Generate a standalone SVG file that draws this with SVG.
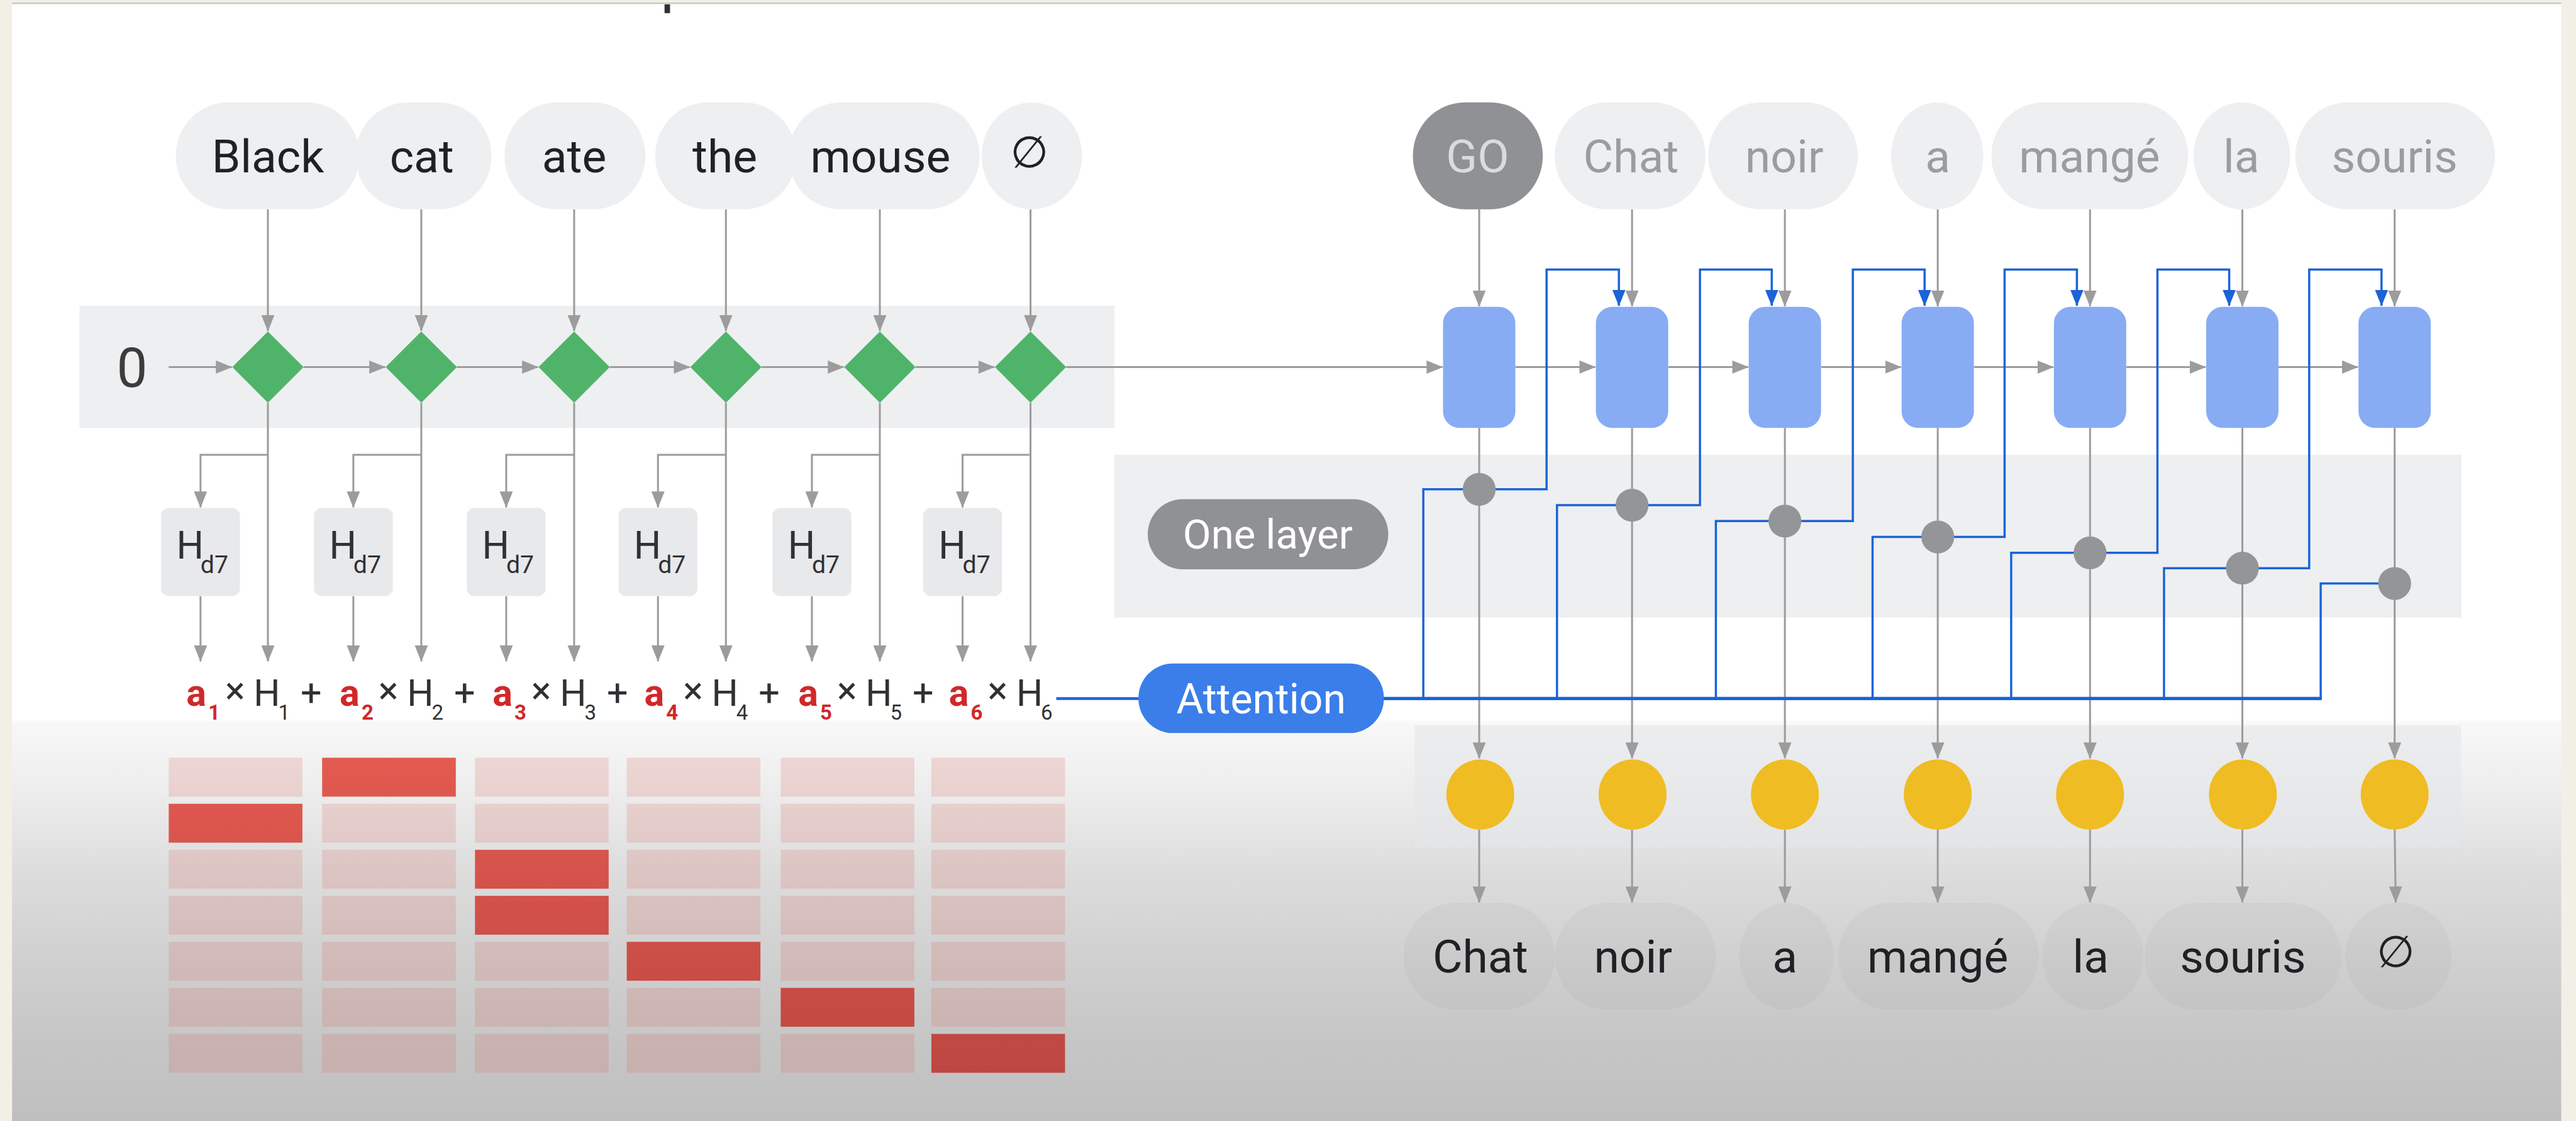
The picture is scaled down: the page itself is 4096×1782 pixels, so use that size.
<svg xmlns="http://www.w3.org/2000/svg" width="4096" height="1782" viewBox="0 0 4096 1782">
  <defs>
    <style>
      .t { font-family: Roboto, "Liberation Sans", "DejaVu Sans", sans-serif; }
      .word { font-size: 84px; text-anchor: middle; fill: #202124; }
      .fade { fill: #9a9ca0; }
      .pill { fill: #eeeff1; }
      .pillLow { fill: #7d8490; fill-opacity: 0.07; }
      .band { fill: #eeeff1; }
      .g { stroke: #9c9c9c; stroke-width: 3.5; fill: none; }
      .ga { stroke: #9c9c9c; stroke-width: 3.5; fill: none; marker-end: url(#ah); }
      .b { stroke: #1b63d8; stroke-width: 4; fill: none; }
      .ba { stroke: #1b63d8; stroke-width: 4; fill: none; marker-end: url(#ahb); }
      .diamond { fill: #4fb46a; }
      .cell { fill: #d8625c; fill-opacity: 0.2; }
      .hot { fill: url(#hotGrad); }
      .cellbox { fill: #e8e9eb; }
      .dec { fill: #87acf3; }
      .dot { fill: #939597; }
      .sun { fill: #f0bc23; }
      .red { fill: #d0282a; font-weight: bold; }
      .blk { fill: #303134; }
    </style>
    <marker id="ah" markerUnits="userSpaceOnUse" markerWidth="30" markerHeight="24" viewBox="0 0 30 24" refX="29" refY="12" orient="auto">
      <path d="M0,0 L30,12 L0,24 z" fill="#9c9c9c"/>
    </marker>
    <marker id="ahb" markerUnits="userSpaceOnUse" markerWidth="30" markerHeight="24" viewBox="0 0 30 24" refX="29" refY="12" orient="auto">
      <path d="M0,0 L30,12 L0,24 z" fill="#1b63d8"/>
    </marker>
    <linearGradient id="slideGrad" gradientUnits="userSpaceOnUse" x1="0" y1="1312" x2="0" y2="2046">
      <stop offset="0" stop-color="#ffffff"/>
      <stop offset="0.01" stop-color="#f8f8f8"/>
      <stop offset="0.19" stop-color="#ececec"/>
      <stop offset="0.39" stop-color="#dcdcdc"/>
      <stop offset="0.6" stop-color="#d0d0d0"/>
      <stop offset="0.8" stop-color="#c6c6c6"/>
      <stop offset="1" stop-color="#bfbfbf"/>
    </linearGradient>
    <linearGradient id="hotGrad" gradientUnits="userSpaceOnUse" x1="0" y1="1380" x2="0" y2="1960">
      <stop offset="0" stop-color="#e35a50"/>
      <stop offset="1" stop-color="#bd4742"/>
    </linearGradient>
  </defs>

  <g transform="scale(0.871118 0.870968)">
    <!-- page frame and slide -->
    <rect x="0" y="0" width="4702" height="2046" fill="#f2efe7"/>
    <rect x="22" y="7" width="4653" height="2039" fill="url(#slideGrad)"/>
    <line x1="22" y1="6" x2="4675" y2="6" stroke="#c9c8c4" stroke-width="3"/>
    <rect x="1213" y="8" width="10" height="16" fill="#303134"/>

    <!-- background bands -->
    <rect class="band" x="145" y="558" width="1889" height="223"/>
    <rect class="band" x="2034" y="830" width="2459" height="297"/>
    <rect x="2582" y="1324" width="1910" height="223" fill="#e4e6ea" fill-opacity="0.6"/>

    <!-- connectors -->
    <g id="connectors">
      <!-- encoder: tokens into cells -->
      <line class="ga" x1="489" y1="382" x2="489" y2="604"/>
      <line class="ga" x1="769" y1="382" x2="769" y2="604"/>
      <line class="ga" x1="1048" y1="382" x2="1048" y2="604"/>
      <line class="ga" x1="1325" y1="382" x2="1325" y2="604"/>
      <line class="ga" x1="1606" y1="382" x2="1606" y2="604"/>
      <line class="ga" x1="1881" y1="382" x2="1881" y2="604"/>
      <!-- encoder recurrence -->
      <line class="ga" x1="308" y1="670" x2="423" y2="670"/>
      <line class="ga" x1="554" y1="670" x2="703" y2="670"/>
      <line class="ga" x1="834" y1="670" x2="982" y2="670"/>
      <line class="ga" x1="1113" y1="670" x2="1259" y2="670"/>
      <line class="ga" x1="1390" y1="670" x2="1540" y2="670"/>
      <line class="ga" x1="1671" y1="670" x2="1815" y2="670"/>
      <line class="ga" x1="1946" y1="670" x2="2633" y2="670"/>
      <!-- encoder states down to the weighted sum -->
      <line class="ga" x1="489" y1="735" x2="489" y2="1207"/>
      <line class="ga" x1="769" y1="735" x2="769" y2="1207"/>
      <line class="ga" x1="1048" y1="735" x2="1048" y2="1207"/>
      <line class="ga" x1="1325" y1="735" x2="1325" y2="1207"/>
      <line class="ga" x1="1606" y1="735" x2="1606" y2="1207"/>
      <line class="ga" x1="1881" y1="735" x2="1881" y2="1207"/>
      <!-- branches into the H_d7 scorers -->
      <path class="ga" d="M489,830 H366 V926"/>
      <path class="ga" d="M769,830 H645 V926"/>
      <path class="ga" d="M1048,830 H924 V926"/>
      <path class="ga" d="M1325,830 H1201 V926"/>
      <path class="ga" d="M1606,830 H1482 V926"/>
      <path class="ga" d="M1881,830 H1757 V926"/>
      <line class="ga" x1="366" y1="1088" x2="366" y2="1207"/>
      <line class="ga" x1="645" y1="1088" x2="645" y2="1207"/>
      <line class="ga" x1="924" y1="1088" x2="924" y2="1207"/>
      <line class="ga" x1="1201" y1="1088" x2="1201" y2="1207"/>
      <line class="ga" x1="1482" y1="1088" x2="1482" y2="1207"/>
      <line class="ga" x1="1757" y1="1088" x2="1757" y2="1207"/>

      <!-- decoder: tokens into cells -->
      <line class="ga" x1="2700" y1="382" x2="2700" y2="559"/>
      <line class="ga" x1="2979" y1="382" x2="2979" y2="559"/>
      <line class="ga" x1="3258" y1="382" x2="3258" y2="559"/>
      <line class="ga" x1="3537" y1="382" x2="3537" y2="559"/>
      <line class="ga" x1="3815" y1="382" x2="3815" y2="559"/>
      <line class="ga" x1="4093" y1="382" x2="4093" y2="559"/>
      <line class="ga" x1="4371" y1="382" x2="4371" y2="559"/>
      <!-- decoder recurrence -->
      <line class="ga" x1="2766" y1="670" x2="2912" y2="670"/>
      <line class="ga" x1="3045" y1="670" x2="3191" y2="670"/>
      <line class="ga" x1="3324" y1="670" x2="3470" y2="670"/>
      <line class="ga" x1="3603" y1="670" x2="3748" y2="670"/>
      <line class="ga" x1="3881" y1="670" x2="4026" y2="670"/>
      <line class="ga" x1="4159" y1="670" x2="4304" y2="670"/>
      <!-- decoder cells down to the outputs -->
      <line class="ga" x1="2700" y1="781" x2="2700" y2="1384"/>
      <line class="ga" x1="2979" y1="781" x2="2979" y2="1384"/>
      <line class="ga" x1="3258" y1="781" x2="3258" y2="1384"/>
      <line class="ga" x1="3537" y1="781" x2="3537" y2="1384"/>
      <line class="ga" x1="3815" y1="781" x2="3815" y2="1384"/>
      <line class="ga" x1="4093" y1="781" x2="4093" y2="1384"/>
      <line class="ga" x1="4371" y1="781" x2="4371" y2="1384"/>
      <line class="ga" x1="2700" y1="1514" x2="2700" y2="1647"/>
      <line class="ga" x1="2979" y1="1514" x2="2979" y2="1647"/>
      <line class="ga" x1="3258" y1="1514" x2="3258" y2="1647"/>
      <line class="ga" x1="3537" y1="1514" x2="3537" y2="1647"/>
      <line class="ga" x1="3815" y1="1514" x2="3815" y2="1647"/>
      <line class="ga" x1="4093" y1="1514" x2="4093" y2="1647"/>
      <line class="ga" x1="4371" y1="1514" x2="4373" y2="1647"/>

      <!-- attention context feeding each next step -->
      <line x1="1928" y1="1275" x2="2080" y2="1275" stroke="#1b63d8" stroke-width="5"/>
      <line x1="2524" y1="1275" x2="4238" y2="1275" stroke="#1b63d8" stroke-width="6"/>
      <path class="ba" d="M2598,1275 V893 H2823 V492 H2955 V558"/>
      <path class="ba" d="M2842,1275 V922 H3103 V492 H3234 V558"/>
      <path class="ba" d="M3132,1275 V951 H3382 V492 H3513 V558"/>
      <path class="ba" d="M3418,1275 V980 H3659 V492 H3791 V558"/>
      <path class="ba" d="M3671,1275 V1009 H3938 V492 H4069 V558"/>
      <path class="ba" d="M3950,1275 V1037 H4215 V492 H4347 V558"/>
      <path class="b" d="M4236,1275 V1065 H4371"/>
    </g>

    <!-- encoder input tokens -->
    <g id="enc-tokens" class="t">
      <g id="tok-black"><rect class="pill" x="321" y="187" width="335" height="195" rx="95" ry="97"/><text class="word" x="489" y="315">Black</text></g>
      <g id="tok-cat"><rect class="pill" x="649" y="187" width="248" height="195" rx="95" ry="97"/><text class="word" x="770" y="315">cat</text></g>
      <g id="tok-ate"><rect class="pill" x="921" y="187" width="257" height="195" rx="95" ry="97"/><text class="word" x="1048" y="315">ate</text></g>
      <g id="tok-the"><rect class="pill" x="1196" y="187" width="257" height="195" rx="95" ry="97"/><text class="word" x="1323" y="315">the</text></g>
      <g id="tok-mouse"><rect class="pill" x="1439" y="187" width="349" height="195" rx="95" ry="97"/><text class="word" x="1607" y="315">mouse</text></g>
      <g id="tok-end"><rect class="pill" x="1792" y="187" width="183" height="195" rx="91" ry="97"/><text class="word" x="1879" y="305" style="font-family:'DejaVu Sans',sans-serif;font-size:80px">∅</text></g>
    </g>

    <!-- encoder cells -->
    <g id="enc-init" class="t"><text x="241" y="706" font-size="100" text-anchor="middle" fill="#3c3c3c">0</text></g>
    <g id="enc-cell-1"><path class="diamond" d="M489,605 L554,670 L489,735 L424,670 z"/></g>
    <g id="enc-cell-2"><path class="diamond" d="M769,605 L834,670 L769,735 L704,670 z"/></g>
    <g id="enc-cell-3"><path class="diamond" d="M1048,605 L1113,670 L1048,735 L983,670 z"/></g>
    <g id="enc-cell-4"><path class="diamond" d="M1325,605 L1390,670 L1325,735 L1260,670 z"/></g>
    <g id="enc-cell-5"><path class="diamond" d="M1606,605 L1671,670 L1606,735 L1541,670 z"/></g>
    <g id="enc-cell-6"><path class="diamond" d="M1881,605 L1946,670 L1881,735 L1816,670 z"/></g>

    <!-- attention scorers -->
    <g id="score-1" class="t"><rect class="cellbox" x="294" y="927" width="144" height="161" rx="14"/><text class="blk" x="322" y="1020" font-size="70">H</text><text class="blk" x="366" y="1046" font-size="45">d7</text></g>
    <g id="score-2" class="t"><rect class="cellbox" x="573" y="927" width="144" height="161" rx="14"/><text class="blk" x="601" y="1020" font-size="70">H</text><text class="blk" x="645" y="1046" font-size="45">d7</text></g>
    <g id="score-3" class="t"><rect class="cellbox" x="852" y="927" width="144" height="161" rx="14"/><text class="blk" x="880" y="1020" font-size="70">H</text><text class="blk" x="924" y="1046" font-size="45">d7</text></g>
    <g id="score-4" class="t"><rect class="cellbox" x="1129" y="927" width="144" height="161" rx="14"/><text class="blk" x="1157" y="1020" font-size="70">H</text><text class="blk" x="1201" y="1046" font-size="45">d7</text></g>
    <g id="score-5" class="t"><rect class="cellbox" x="1410" y="927" width="144" height="161" rx="14"/><text class="blk" x="1438" y="1020" font-size="70">H</text><text class="blk" x="1482" y="1046" font-size="45">d7</text></g>
    <g id="score-6" class="t"><rect class="cellbox" x="1685" y="927" width="144" height="161" rx="14"/><text class="blk" x="1713" y="1020" font-size="70">H</text><text class="blk" x="1757" y="1046" font-size="45">d7</text></g>

    <!-- weighted sum of encoder states -->
    <g id="weighted-sum" class="t" font-size="68">
      <text class="red" x="340" y="1288">a</text><text class="red" x="380" y="1313" font-size="38">1</text>
      <text class="blk" x="429" y="1284" text-anchor="middle">×</text>
      <text class="blk" x="463" y="1288">H</text><text class="blk" x="508" y="1313" font-size="38">1</text>
      <text class="blk" x="568" y="1288" text-anchor="middle">+</text>

      <text class="red" x="620" y="1288">a</text><text class="red" x="660" y="1313" font-size="38">2</text>
      <text class="blk" x="709" y="1284" text-anchor="middle">×</text>
      <text class="blk" x="743" y="1288">H</text><text class="blk" x="788" y="1313" font-size="38">2</text>
      <text class="blk" x="848" y="1288" text-anchor="middle">+</text>

      <text class="red" x="899" y="1288">a</text><text class="red" x="939" y="1313" font-size="38">3</text>
      <text class="blk" x="988" y="1284" text-anchor="middle">×</text>
      <text class="blk" x="1022" y="1288">H</text><text class="blk" x="1067" y="1313" font-size="38">3</text>
      <text class="blk" x="1127" y="1288" text-anchor="middle">+</text>

      <text class="red" x="1176" y="1288">a</text><text class="red" x="1216" y="1313" font-size="38">4</text>
      <text class="blk" x="1265" y="1284" text-anchor="middle">×</text>
      <text class="blk" x="1299" y="1288">H</text><text class="blk" x="1344" y="1313" font-size="38">4</text>
      <text class="blk" x="1404" y="1288" text-anchor="middle">+</text>

      <text class="red" x="1457" y="1288">a</text><text class="red" x="1497" y="1313" font-size="38">5</text>
      <text class="blk" x="1546" y="1284" text-anchor="middle">×</text>
      <text class="blk" x="1580" y="1288">H</text><text class="blk" x="1625" y="1313" font-size="38">5</text>
      <text class="blk" x="1685" y="1288" text-anchor="middle">+</text>

      <text class="red" x="1732" y="1288">a</text><text class="red" x="1772" y="1313" font-size="38">6</text>
      <text class="blk" x="1821" y="1284" text-anchor="middle">×</text>
      <text class="blk" x="1855" y="1288">H</text><text class="blk" x="1900" y="1313" font-size="38">6</text>
    </g>

    <!-- attention weights per output step -->
    <g id="weights">
      <rect class="cell" x="308" y="1383" width="244" height="71"/>
      <rect class="hot" x="588" y="1383" width="244" height="71"/>
      <rect class="cell" x="867" y="1383" width="244" height="71"/>
      <rect class="cell" x="1144" y="1383" width="244" height="71"/>
      <rect class="cell" x="1425" y="1383" width="244" height="71"/>
      <rect class="cell" x="1700" y="1383" width="244" height="71"/>

      <rect class="hot" x="308" y="1467" width="244" height="71"/>
      <rect class="cell" x="588" y="1467" width="244" height="71"/>
      <rect class="cell" x="867" y="1467" width="244" height="71"/>
      <rect class="cell" x="1144" y="1467" width="244" height="71"/>
      <rect class="cell" x="1425" y="1467" width="244" height="71"/>
      <rect class="cell" x="1700" y="1467" width="244" height="71"/>

      <rect class="cell" x="308" y="1551" width="244" height="71"/>
      <rect class="cell" x="588" y="1551" width="244" height="71"/>
      <rect class="hot" x="867" y="1551" width="244" height="71"/>
      <rect class="cell" x="1144" y="1551" width="244" height="71"/>
      <rect class="cell" x="1425" y="1551" width="244" height="71"/>
      <rect class="cell" x="1700" y="1551" width="244" height="71"/>

      <rect class="cell" x="308" y="1635" width="244" height="71"/>
      <rect class="cell" x="588" y="1635" width="244" height="71"/>
      <rect class="hot" x="867" y="1635" width="244" height="71"/>
      <rect class="cell" x="1144" y="1635" width="244" height="71"/>
      <rect class="cell" x="1425" y="1635" width="244" height="71"/>
      <rect class="cell" x="1700" y="1635" width="244" height="71"/>

      <rect class="cell" x="308" y="1719" width="244" height="71"/>
      <rect class="cell" x="588" y="1719" width="244" height="71"/>
      <rect class="cell" x="867" y="1719" width="244" height="71"/>
      <rect class="hot" x="1144" y="1719" width="244" height="71"/>
      <rect class="cell" x="1425" y="1719" width="244" height="71"/>
      <rect class="cell" x="1700" y="1719" width="244" height="71"/>

      <rect class="cell" x="308" y="1803" width="244" height="71"/>
      <rect class="cell" x="588" y="1803" width="244" height="71"/>
      <rect class="cell" x="867" y="1803" width="244" height="71"/>
      <rect class="cell" x="1144" y="1803" width="244" height="71"/>
      <rect class="hot" x="1425" y="1803" width="244" height="71"/>
      <rect class="cell" x="1700" y="1803" width="244" height="71"/>

      <rect class="cell" x="308" y="1887" width="244" height="71"/>
      <rect class="cell" x="588" y="1887" width="244" height="71"/>
      <rect class="cell" x="867" y="1887" width="244" height="71"/>
      <rect class="cell" x="1144" y="1887" width="244" height="71"/>
      <rect class="cell" x="1425" y="1887" width="244" height="71"/>
      <rect class="hot" x="1700" y="1887" width="244" height="71"/>
    </g>

    <!-- labels -->
    <g id="one-layer" class="t"><rect x="2095" y="911" width="439" height="128" rx="64" fill="#8f9194"/><text x="2314" y="1001" font-size="75" text-anchor="middle" fill="#ffffff">One layer</text></g>
    <g id="attention" class="t"><rect x="2078" y="1211" width="448" height="127" rx="63" fill="#3b7eea"/><text x="2302" y="1302" font-size="76" text-anchor="middle" fill="#ffffff">Attention</text></g>

    <!-- decoder input tokens -->
    <g id="dec-tokens" class="t">
      <g id="in-go"><rect x="2579" y="187" width="237" height="195" rx="95" ry="97" fill="#8f9194"/><text class="word" x="2697" y="315" fill="#dadbdc" style="fill:#dadbdc">GO</text></g>
      <g id="in-chat"><rect class="pill" x="2838" y="187" width="275" height="195" rx="95" ry="97"/><text class="word fade" x="2977" y="315">Chat</text></g>
      <g id="in-noir"><rect class="pill" x="3118" y="187" width="273" height="195" rx="95" ry="97"/><text class="word fade" x="3257" y="315">noir</text></g>
      <g id="in-a"><rect class="pill" x="3452" y="187" width="168" height="195" rx="84" ry="97"/><text class="word fade" x="3537" y="315">a</text></g>
      <g id="in-mange"><rect class="pill" x="3635" y="187" width="359" height="195" rx="95" ry="97"/><text class="word fade" x="3814" y="315">mangé</text></g>
      <g id="in-la"><rect class="pill" x="4004" y="187" width="176" height="195" rx="88" ry="97"/><text class="word fade" x="4091" y="315">la</text></g>
      <g id="in-souris"><rect class="pill" x="4190" y="187" width="364" height="195" rx="95" ry="97"/><text class="word fade" x="4371" y="315">souris</text></g>
    </g>

    <!-- decoder cells -->
    <g id="dec-cell-1"><rect class="dec" x="2634" y="560" width="132" height="221" rx="30"/></g>
    <g id="dec-cell-2"><rect class="dec" x="2913" y="560" width="132" height="221" rx="30"/></g>
    <g id="dec-cell-3"><rect class="dec" x="3192" y="560" width="132" height="221" rx="30"/></g>
    <g id="dec-cell-4"><rect class="dec" x="3471" y="560" width="132" height="221" rx="30"/></g>
    <g id="dec-cell-5"><rect class="dec" x="3749" y="560" width="132" height="221" rx="30"/></g>
    <g id="dec-cell-6"><rect class="dec" x="4027" y="560" width="132" height="221" rx="30"/></g>
    <g id="dec-cell-7"><rect class="dec" x="4305" y="560" width="132" height="221" rx="30"/></g>

    <!-- attention query points -->
    <g id="query-1"><circle class="dot" cx="2700" cy="893" r="30"/></g>
    <g id="query-2"><circle class="dot" cx="2979" cy="922" r="30"/></g>
    <g id="query-3"><circle class="dot" cx="3258" cy="951" r="30"/></g>
    <g id="query-4"><circle class="dot" cx="3537" cy="980" r="30"/></g>
    <g id="query-5"><circle class="dot" cx="3815" cy="1009" r="30"/></g>
    <g id="query-6"><circle class="dot" cx="4093" cy="1037" r="30"/></g>
    <g id="query-7"><circle class="dot" cx="4371" cy="1065" r="30"/></g>

    <!-- output layer -->
    <g id="out-1"><ellipse class="sun" cx="2702" cy="1450" rx="62" ry="64"/></g>
    <g id="out-2"><ellipse class="sun" cx="2980" cy="1450" rx="62" ry="64"/></g>
    <g id="out-3"><ellipse class="sun" cx="3258" cy="1450" rx="62" ry="64"/></g>
    <g id="out-4"><ellipse class="sun" cx="3537" cy="1450" rx="62" ry="64"/></g>
    <g id="out-5"><ellipse class="sun" cx="3815" cy="1450" rx="62" ry="64"/></g>
    <g id="out-6"><ellipse class="sun" cx="4094" cy="1450" rx="62" ry="64"/></g>
    <g id="out-7"><ellipse class="sun" cx="4371" cy="1450" rx="62" ry="64"/></g>

    <!-- decoder output tokens -->
    <g id="dec-out" class="t">
      <g id="o-chat"><rect class="pillLow" x="2562" y="1648" width="276" height="195" rx="95" ry="97"/><text class="word" x="2702" y="1775">Chat</text></g>
      <g id="o-noir"><rect class="pillLow" x="2838" y="1648" width="294" height="195" rx="95" ry="97"/><text class="word" x="2981" y="1775">noir</text></g>
      <g id="o-a"><rect class="pillLow" x="3175" y="1648" width="172" height="195" rx="86" ry="97"/><text class="word" x="3258" y="1775">a</text></g>
      <g id="o-mange"><rect class="pillLow" x="3355" y="1648" width="366" height="195" rx="95" ry="97"/><text class="word" x="3537" y="1775">mangé</text></g>
      <g id="o-la"><rect class="pillLow" x="3728" y="1648" width="184" height="195" rx="92" ry="97"/><text class="word" x="3816" y="1775">la</text></g>
      <g id="o-souris"><rect class="pillLow" x="3915" y="1648" width="359" height="195" rx="95" ry="97"/><text class="word" x="4094" y="1775">souris</text></g>
      <g id="o-end"><rect class="pillLow" x="4281" y="1648" width="194" height="195" rx="95" ry="97"/><text class="word" x="4373" y="1765" style="font-family:'DejaVu Sans',sans-serif;font-size:80px">∅</text></g>
    </g>
  </g>
</svg>
